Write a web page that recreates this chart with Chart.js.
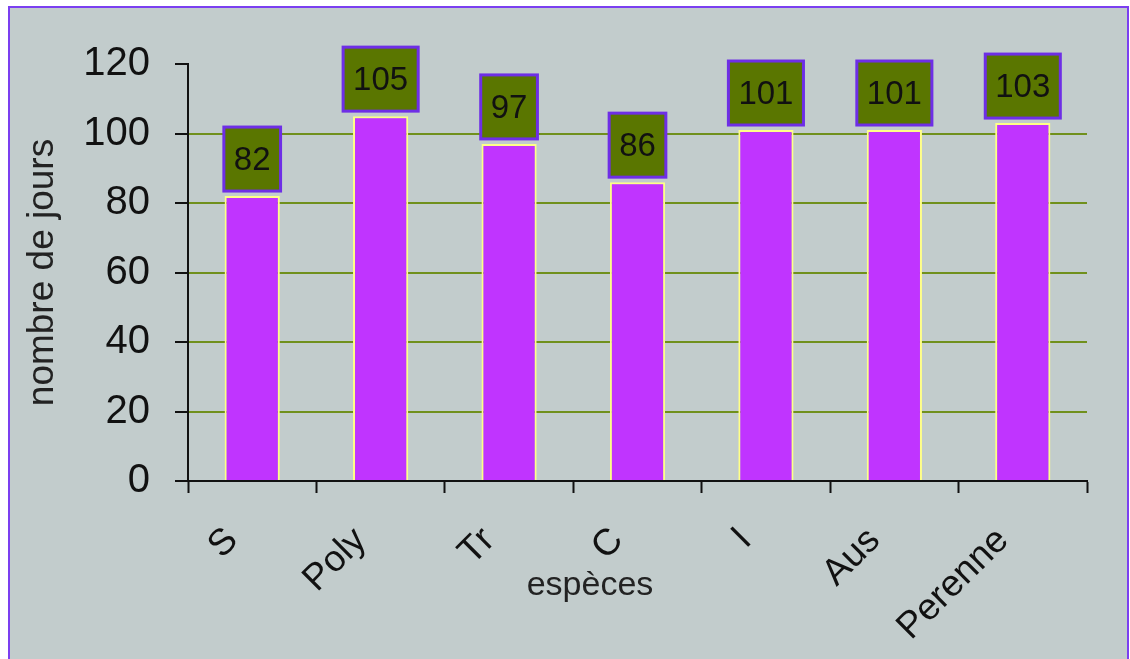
<!DOCTYPE html>
<html>
<head>
<meta charset="utf-8">
<script src="https://cdn.jsdelivr.net/npm/chart.js@4.4.1/dist/chart.umd.min.js"></script>
<style>
	html, body { margin: 0; padding: 0; background: #ffffff; }
	#wrap { width: 1130px; height: 659px; }
</style>
</head>
<body>
<div id="wrap"><canvas id="chart" width="1130" height="659"></canvas></div>
<script>
// donnees
var especes = ["S", "Poly", "Tr", "C", "I", "Aus", "Perenne"];
var jours = [82, 105, 97, 86, 101, 101, 103];
var yTicks = [0, 20, 40, 60, 80, 100, 120];

var FONT = "'Liberation Sans', Arial, sans-serif";

// fond gris-bleu + cadre violet
var panel = {
	id: 'panel',
	beforeDraw: function (chart)
	{
		var ctx = chart.ctx;
		ctx.save();
		ctx.fillStyle = '#ffffff';
		ctx.fillRect(0, 0, chart.width, chart.height);
		ctx.fillStyle = '#c2cccc';
		ctx.fillRect(9, 7, 1119, 700);
		ctx.strokeStyle = '#7b3ff0';
		ctx.lineWidth = 2;
		ctx.strokeRect(9, 7, 1119, 700);
		ctx.restore();
	}
};

// etiquettes de valeur dans des boites vertes
var boxes = {
	id: 'boxes',
	afterDatasetsDraw: function (chart)
	{
		var ctx = chart.ctx;
		var meta = chart.getDatasetMeta(0);
		ctx.save();
		ctx.font = '33px ' + FONT;
		ctx.textAlign = 'center';
		ctx.textBaseline = 'middle';
		meta.data.forEach(function (bar, i)
		{
			var txt = String(jours[i]);
			var w = Math.max(bar.width, ctx.measureText(txt).width + 20);
			var h = 64;
			var bottom = bar.y - 5;
			ctx.fillStyle = '#5a7600';
			ctx.fillRect(bar.x - w / 2, bottom - h, w, h);
			ctx.strokeStyle = '#6e2ee6';
			ctx.lineWidth = 3;
			ctx.strokeRect(bar.x - w / 2, bottom - h, w, h);
			ctx.fillStyle = '#111111';
			ctx.fillText(txt, bar.x, bottom - h / 2 + 2);
		});
		ctx.restore();
	}
};

// titre de l'axe x place comme sur l'original
var xTitle = {
	id: 'xTitle',
	afterDraw: function (chart)
	{
		var ctx = chart.ctx;
		ctx.save();
		ctx.font = '34px ' + FONT;
		ctx.fillStyle = '#222222';
		ctx.textAlign = 'center';
		ctx.textBaseline = 'middle';
		ctx.fillText("espèces", 590, 586);
		ctx.restore();
	}
};

new Chart(document.getElementById('chart'), {
	type: 'bar',
	data: {
		labels: especes,
		datasets: [{
			data: jours,
			backgroundColor: '#c034ff',
			borderColor: '#ffff88',
			borderWidth: {left: 2, right: 2, top: 2, bottom: 0},
			borderSkipped: false,
			categoryPercentage: 1,
			barPercentage: 0.43
		}]
	},
	options: {
		responsive: false,
		animation: false,
		layout: {padding: {top: 64, right: 43, left: 0, bottom: 0}},
		plugins: {
			legend: {display: false},
			tooltip: {enabled: false}
		},
		scales: {
			x: {
				offset: true,
				grid: {
					offset: true,
					drawOnChartArea: false,
					tickLength: 12,
					tickColor: '#111111',
					tickWidth: 2
				},
				border: {color: '#111111', width: 2},
				ticks: {
					minRotation: 45,
					maxRotation: 45,
					padding: 26,
					labelOffset: -20,
					color: '#111111',
					font: {family: FONT, size: 37}
				},
				afterFit: function (scale) { scale.height = 178; }
			},
			y: {
				min: 0,
				max: 120,
				afterBuildTicks: function (scale)
				{
					scale.ticks = yTicks.map(function (v) { return {value: v}; });
				},
				grid: {
					color: function (c)
					{
						var v = c.tick ? c.tick.value : 0;
						return (v > 0 && v < 120) ? '#70901c' : 'rgba(0,0,0,0)';
					},
					lineWidth: 2,
					tickLength: 13,
					tickColor: '#111111',
					tickWidth: 2
				},
				border: {color: '#111111', width: 2},
				ticks: {
					padding: 25,
					color: '#111111',
					font: {family: FONT, size: 40}
				},
				title: {
					display: true,
					text: 'nombre de jours',
					color: '#222222',
					font: {family: FONT, size: 37},
					padding: {top: 21, bottom: 0}
				},
				afterFit: function (scale) { scale.width = 188; }
			}
		}
	},
	plugins: [panel, boxes, xTitle]
});
</script>
</body>
</html>
